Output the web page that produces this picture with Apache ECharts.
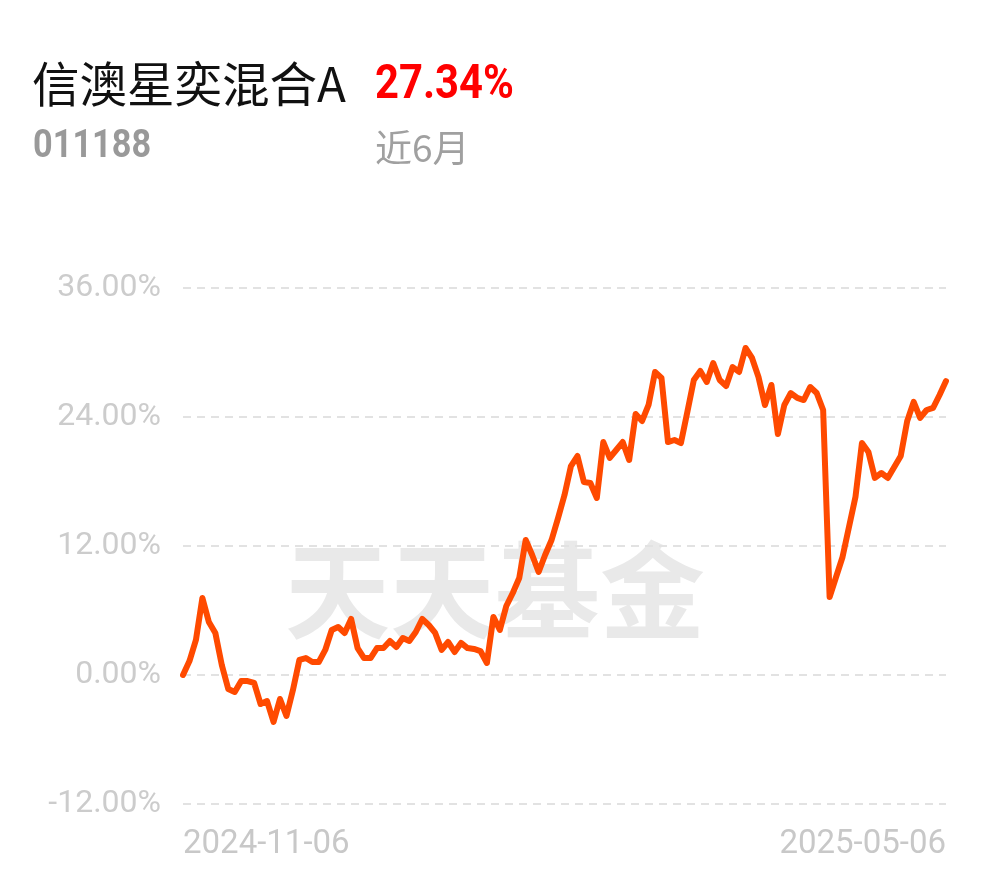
<!DOCTYPE html>
<html>
<head>
<meta charset="utf-8">
<script src="https://cdn.jsdelivr.net/npm/echarts@6/dist/echarts.min.js"></script>
<style>
html,body{margin:0;padding:0;background:#fff;}
#c{width:990px;height:878px;}
</style>
</head>
<body>
<div id="c"></div>
<script>
const fundName = '信澳星奕混合A';
const fundCode = '011188';
const periodReturn = '27.34%';
const periodLabel = '近6月';
const xTickLabels = ['2024-11-06', '2025-05-06'];
const yMin = -12, yMax = 36, yStep = 12;
const returns = [
  0.00,1.30,3.26,7.16,4.93,3.91,0.93,-1.30,-1.58,-0.56,
  -0.56,-0.74,-2.70,-2.42,-4.37,-2.23,-3.81,-1.40,1.40,1.58,
  1.21,1.21,2.33,4.19,4.47,3.91,5.21,2.51,1.58,1.58,
  2.51,2.51,3.16,2.60,3.44,3.16,4.00,5.21,4.65,3.91,
  2.33,3.07,2.14,2.98,2.51,2.42,2.23,1.12,5.40,4.19,
  6.42,7.63,9.02,12.56,11.16,9.58,11.16,12.56,14.60,16.74,
  19.44,20.37,17.95,17.86,16.47,21.67,20.19,20.93,21.67,20.00,
  24.28,23.63,25.12,28.19,27.63,21.67,21.86,21.58,24.47,27.44,
  28.28,27.26,29.02,27.44,26.88,28.65,28.19,30.42,29.49,27.72,
  25.12,26.98,22.42,25.12,26.23,25.77,25.58,26.79,26.23,24.65,
  7.26,9.12,10.98,13.77,16.56,21.58,20.74,18.33,18.79,18.33,
  19.35,20.37,23.63,25.40,23.91,24.65,24.84,26.05,27.34
];
const categories = returns.map((_, i) => i);
const lastIdx = categories.length - 1;

const chart = echarts.init(document.getElementById('c'), null, {renderer: 'canvas'});
chart.setOption({
  animation: false,
  backgroundColor: '#ffffff',
  graphic: [
    {type: 'text', x: 32, y: 84, z: 10, style: {text: fundName, font: '47.5px "Noto Sans CJK SC"', fill: '#111111', verticalAlign: 'middle'}},
    {type: 'text', x: 375, y: 86, scaleX: 0.87, z: 10, style: {text: periodReturn, font: 'bold 48px Roboto', fill: '#ff0000', verticalAlign: 'middle'}},
    {type: 'text', x: 33, y: 147, scaleX: 0.88, z: 10, style: {text: fundCode, font: 'bold 39px Roboto', fill: '#999999', verticalAlign: 'middle'}},
    {type: 'text', x: 375, y: 148, z: 10, style: {text: periodLabel, font: '37px "Noto Sans CJK SC"', fill: '#a0a0a0', verticalAlign: 'middle'}},
    {type: 'text', x: 285, y: 590, z: -1, silent: true, style: {text: '天天基金', font: 'bold 105px "Noto Sans CJK SC"', fill: '#e9e9e9', verticalAlign: 'middle'}}
  ],
  grid: {left: 183, right: 44, top: 288, bottom: 74, containLabel: false},
  xAxis: {
    type: 'category',
    data: categories,
    boundaryGap: false,
    axisLine: {show: false},
    axisTick: {show: false},
    splitLine: {show: false},
    axisLabel: {
      interval: 0,
      margin: 24,
      color: '#c8c8c8',
      fontFamily: 'Roboto',
      fontSize: 33,
      alignMinLabel: 'left',
      alignMaxLabel: 'right',
      formatter: (v, i) => i === 0 ? xTickLabels[0] : (i === lastIdx ? xTickLabels[1] : '')
    }
  },
  yAxis: {
    type: 'value',
    min: yMin, max: yMax, interval: yStep,
    axisLine: {show: false},
    axisTick: {show: false},
    axisLabel: {
      margin: 22,
      color: '#cccccc',
      fontFamily: 'Roboto',
      fontSize: 32,
      formatter: v => v.toFixed(2) + '%'
    },
    splitLine: {show: true, lineStyle: {color: '#e2e2e2', width: 2, type: [8, 6]}}
  },
  series: [{
    type: 'line',
    data: returns,
    symbol: 'none',
    smooth: false,
    z: 5,
    lineStyle: {color: '#ff4a00', width: 6, join: 'round', cap: 'round'}
  }]
});
</script>
</body>
</html>
